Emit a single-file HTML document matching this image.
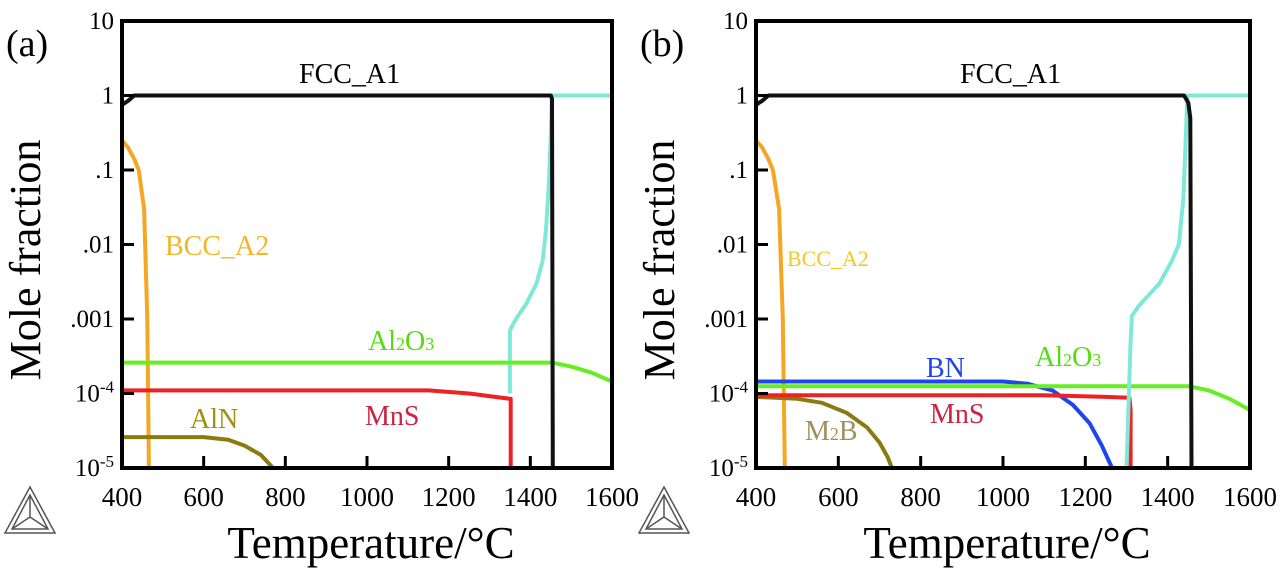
<!DOCTYPE html>
<html><head><meta charset="utf-8"><style>
body{margin:0;background:#fff;width:1280px;height:574px;overflow:hidden}
svg{display:block;font-family:"Liberation Serif",serif}
</style></head><body>
<svg id="c" width="1280" height="574" viewBox="0 0 1280 574"></svg>
<script>
const xTicks=[400,600,800,1000,1200,1400,1600];
const yTicks=[10,1,0.1,0.01,0.001,1e-4,1e-5];
const yTickLabels=["10","1",".1",".01",".001","10^-4","10^-5"];
// Panel (a) series
const aFccT=[400,415,430,1450,1453,1455];
const aFccV=[0.75,0.85,1,1,0.9,1e-5];
const aLiqT=[1350,1350,1355,1365,1390,1415,1430,1438,1445,1450,1453,1600];
const aLiqV=[1e-4,7e-4,8e-4,1e-3,1.6e-3,3e-3,6e-3,1.5e-2,0.06,0.3,1,1];
const aBccT=[400,415,430,441,454,462,466];
const aBccV=[0.25,0.2,0.14,0.1,0.03,1e-3,1e-5];
const aAl2o3T=[400,1000,1453,1500,1550,1600];
const aAl2o3V=[2.6e-4,2.6e-4,2.6e-4,2.3e-4,1.9e-4,1.45e-4];
const aMnsT=[400,1150,1250,1350,1352,1352];
const aMnsV=[1.1e-4,1.1e-4,1.0e-4,8.5e-5,8.5e-5,1e-5];
const aAlnT=[400,600,660,700,740,770];
const aAlnV=[2.6e-5,2.6e-5,2.4e-5,2e-5,1.5e-5,1e-5];
// Panel (b) series
const bFccT=[400,415,430,1440,1450,1455,1458];
const bFccV=[0.75,0.85,1,1,0.8,0.5,1e-5];
const bLiqT=[1300,1310,1313,1330,1380,1410,1427,1438,1443,1448,1600];
const bLiqV=[1e-5,5e-4,1.1e-3,1.5e-3,3e-3,6e-3,1e-2,4e-2,0.2,1,1];
const bBccT=[400,415,430,441,456,465,470];
const bBccV=[0.25,0.2,0.14,0.1,0.03,1e-3,1e-5];
const bBnT=[400,1000,1060,1120,1170,1210,1240,1265];
const bBnV=[1.45e-4,1.45e-4,1.35e-4,1.1e-4,7e-5,4e-5,2e-5,1e-5];
const bAl2o3T=[400,1000,1453,1500,1550,1600];
const bAl2o3V=[1.25e-4,1.25e-4,1.25e-4,1.1e-4,8.5e-5,6e-5];
const bMnsT=[400,1100,1250,1300,1307,1310,1310];
const bMnsV=[9.5e-5,9.5e-5,9e-5,8.8e-5,8.8e-5,6e-5,1e-5];
const bM2bT=[400,500,560,620,670,700,720,730];
const bM2bV=[9e-5,8.5e-5,7.5e-5,5.5e-5,3.5e-5,2.2e-5,1.4e-5,1e-5];

const NS="http://www.w3.org/2000/svg";
const svg=document.getElementById('c');
function el(t,a,p){const e=document.createElementNS(NS,t);for(const k in a)e.setAttribute(k,a[k]);(p||svg).appendChild(e);return e;}

function panel(x0,x1,tag,series,labels){
  const y0=21,y1=468;
  const g=el('g',{});
  
  
  const X=t=>x0+(t-400)/1200*(x1-x0);
  const Y=v=>y0+(1-Math.log10(v))/6*(y1-y0);
  const cid='clip'+tag;
  const cp=el('clipPath',{id:cid},g);el('rect',{x:x0,y:y0,width:x1-x0,height:y1-y0},cp);
  const sg=el('g',{'clip-path':'url(#'+cid+')'},g);
  series.forEach(s=>{
    const d=s.t.map((t,i)=>(i?'L':'M')+X(t).toFixed(1)+' '+Y(s.v[i]).toFixed(1)).join(' ');
    const p=el('path',{d:d,fill:'none',stroke:s.c,'stroke-width':4,'stroke-linejoin':'round'},sg);
    
    
  });
  const fr=el('rect',{x:x0,y:y0,width:x1-x0,height:y1-y0,fill:'none',stroke:'#000','stroke-width':4},g);
  
  
  xTicks.forEach(t=>{
    el('line',{x1:X(t),x2:X(t),y1:y1,y2:y1-12,stroke:'#000','stroke-width':3},g);
    const tx=el('text',{x:X(t),y:y1+38,'font-size':27,'text-anchor':'middle'},g);
    tx.textContent=t;
    
    
  });
  yTicks.forEach((v,i)=>{
    el('line',{x1:x0,x2:x0+12,y1:Y(v),y2:Y(v),stroke:'#000','stroke-width':3},g);
    const tx=el('text',{x:x0-8,y:Y(v)+8,'font-size':25,'text-anchor':'end'},g);
    const lab=yTickLabels[i];
    if(lab.indexOf('^')>0){const [b,e]=lab.split('^');tx.textContent=b;const ts=el('tspan',{'font-size':17,dy:-9},tx);ts.textContent=e;}
    else tx.textContent=lab;
    
    
  });
  const yt=el('text',{x:0,y:0,'font-size':44,'text-anchor':'middle',transform:`translate(${x0-82},260) rotate(-90)`},g);
  yt.textContent='Mole fraction';
  
  
  const xt=el('text',{x:(x0+x1)/2+4,y:558,'font-size':45,'text-anchor':'middle'},g);
  xt.textContent='Temperature/°C';
  
  
  const pl=el('text',{x:x0-116,y:56,'font-size':38},g);
  pl.textContent='('+tag+')';
  
  
  labels.forEach(l=>{
    const t=el('text',{x:l.x,y:l.y,'font-size':l.s||28,fill:l.c},g);
    if(l.sub){t.appendChild(document.createTextNode(l.a));const s=el('tspan',{'font-size':18},t);s.textContent=l.sub;t.appendChild(document.createTextNode(l.b));if(l.sub2){const s2=el('tspan',{'font-size':18},t);s2.textContent=l.sub2;}}
    else t.textContent=l.a;
    
    
  });
  const lx=x0-117,ly=487;
  const lg=el('g',{fill:'none',stroke:'#555','stroke-width':1.5},g);
  
  
  el('polygon',{points:`${lx+25},${ly} ${lx},${ly+46} ${lx+50},${ly+46}`},lg);
  el('polygon',{points:`${lx+25},${ly+8} ${lx+7},${ly+42} ${lx+43},${ly+42}`},lg);
  el('path',{d:`M${lx+25} ${ly+8} L${lx+25} ${ly+30} L${lx+7} ${ly+42} M${lx+25} ${ly+30} L${lx+43} ${ly+42}`},lg);
}
panel(122,612,'a',[
 {n:'bcc-a2-line',t:aBccT,v:aBccV,c:'#f5a623'},
 {n:'aln-line',t:aAlnT,v:aAlnV,c:'#8a7a10'},
 {n:'liquid-line',t:aLiqT,v:aLiqV,c:'#7fe8d8'},
 {n:'al2o3-line',t:aAl2o3T,v:aAl2o3V,c:'#66ee22'},
 {n:'mns-line',t:aMnsT,v:aMnsV,c:'#ee2222'},
 {n:'fcc-a1-line',t:aFccT,v:aFccV,c:'#111'}
],[
 {a:'FCC_A1',x:299,y:83,c:'#000'},
 {a:'BCC_A2',x:165,y:255,c:'#f0b828'},
 {a:'Al',sub:'2',b:'O',sub2:'3',x:368,y:350,c:'#55dd11'},
 {a:'MnS',x:365,y:425,c:'#cc2244'},
 {a:'AlN',x:190,y:428,c:'#a09010'}
]);
panel(756,1250,'b',[
 {n:'bcc-a2-line',t:bBccT,v:bBccV,c:'#f5a623'},
 {n:'m2b-line',t:bM2bT,v:bM2bV,c:'#8a7a10'},
 {n:'bn-line',t:bBnT,v:bBnV,c:'#2244ee'},
 {n:'al2o3-line',t:bAl2o3T,v:bAl2o3V,c:'#66ee22'},
 {n:'mns-line',t:bMnsT,v:bMnsV,c:'#ee2222'},
 {n:'liquid-line',t:bLiqT,v:bLiqV,c:'#7fe8d8'},
 {n:'fcc-a1-line',t:bFccT,v:bFccV,c:'#111'}
],[
 {a:'FCC_A1',x:960,y:83,c:'#000'},
 {a:'BCC_A2',x:787,y:266,c:'#f0c828',s:22},
 {a:'BN',x:926,y:377,c:'#2244ee'},
 {a:'Al',sub:'2',b:'O',sub2:'3',x:1035,y:366,c:'#55dd11'},
 {a:'MnS',x:930,y:423,c:'#cc2244'},
 {a:'M',sub:'2',b:'B',x:805,y:440,c:'#a09060'}
]);
</script>
</body></html>
